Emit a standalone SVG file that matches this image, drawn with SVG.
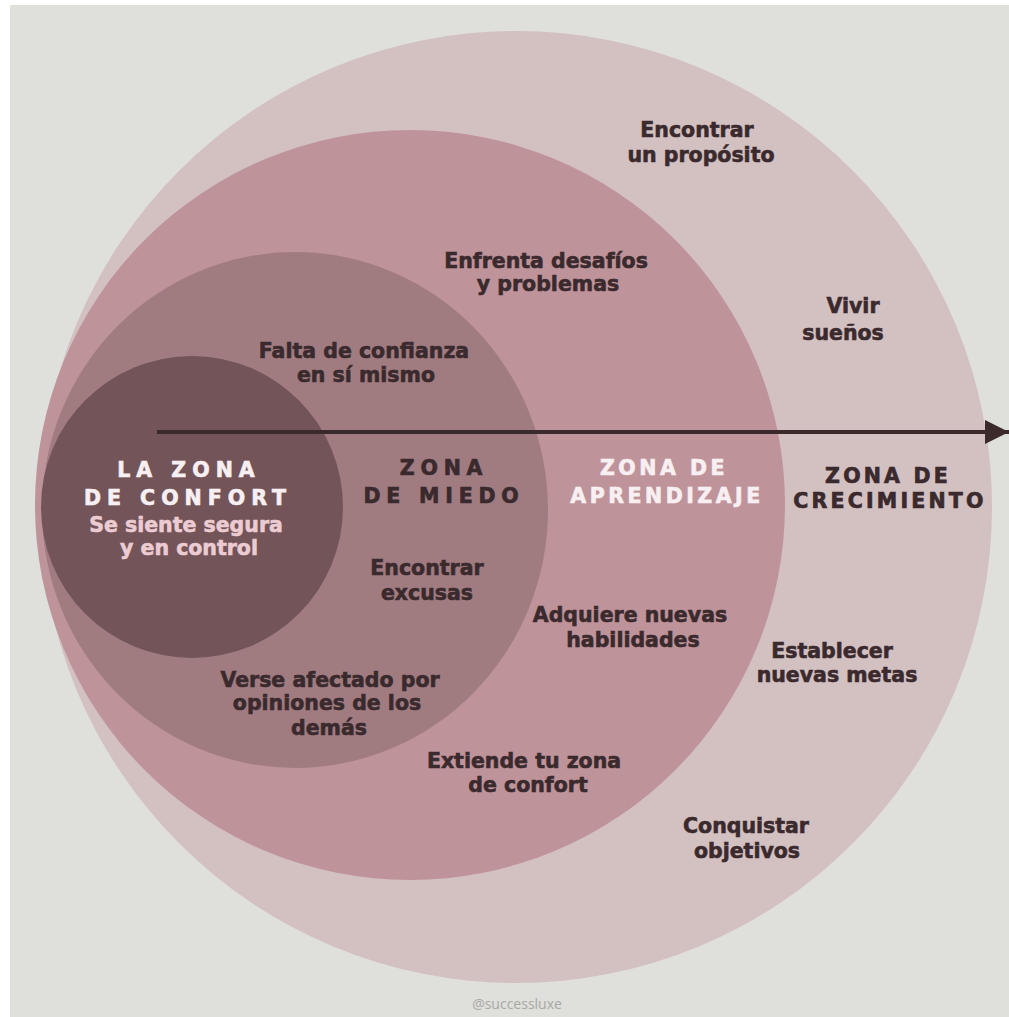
<svg xmlns="http://www.w3.org/2000/svg" width="1009" height="1017" viewBox="0 0 1009 1017">
<defs>
<style>
.t{font-family:"DejaVu Sans","Open Sans",sans-serif;font-weight:700;font-size:20.5px;fill:#3a2a2d;stroke:#3a2a2d;stroke-width:0.6px;text-anchor:middle}
.h{font-family:"DejaVu Sans","Open Sans",sans-serif;font-weight:700;font-size:20.5px;stroke-width:0.7px;text-anchor:middle}
.hd{fill:#3a2a2d;stroke:#3a2a2d}
.hw{fill:#f7eff1;stroke:#f7eff1}
.t.sub{fill:#ecccd2;stroke:#ecccd2}
</style>
<marker id="ah" viewBox="0 0 10 10" refX="10" refY="5" markerWidth="6" markerHeight="6.6" markerUnits="strokeWidth" orient="auto">
<path d="M0,0 L10,5 L0,10 Z" fill="#3a2a2c"/>
</marker>
</defs>
<rect x="0" y="0" width="1009" height="1017" fill="#ffffff"/>
<rect x="10" y="5" width="999" height="1012" fill="#dfdfdc"/>

<g id="zona-crecimiento">
<circle cx="516" cy="507" r="476" fill="#d3c0c1"/>
</g>
<g id="zona-aprendizaje">
<circle cx="410" cy="505" r="375" fill="#bf939a"/>
</g>
<g id="zona-miedo">
<ellipse cx="295" cy="510" rx="253" ry="258" fill="#a07c81"/>
</g>
<g id="zona-confort">
<circle cx="192" cy="507" r="151" fill="#735459"/>
</g>

<g id="connectors">
<line x1="157" y1="432" x2="1009" y2="432" stroke="#3a2a2c" stroke-width="4" marker-end="url(#ah)"/>
</g>

<g id="zona-confort-text">
<text class="h hw" letter-spacing="6"><tspan x="189" y="477">LA ZONA</tspan><tspan x="188" y="505">DE CONFORT</tspan></text>
<text class="t sub"><tspan x="186" y="532">Se siente segura</tspan><tspan x="189" y="555">y en control</tspan></text>
</g>

<g id="zona-miedo-text">
<text class="h hd" letter-spacing="5.8"><tspan x="444" y="475">ZONA</tspan><tspan x="444" y="503">DE MIEDO</tspan></text>
<text class="t"><tspan x="364" y="358">Falta de confianza</tspan><tspan x="366" y="382">en sí mismo</tspan></text>
<text class="t"><tspan x="427" y="575">Encontrar</tspan><tspan x="427" y="600">excusas</tspan></text>
<text class="t"><tspan x="330" y="687">Verse afectado por</tspan><tspan x="327" y="710">opiniones de los</tspan><tspan x="329" y="735">demás</tspan></text>
</g>

<g id="zona-aprendizaje-text">
<text class="h hw" letter-spacing="3.5"><tspan x="664" y="475">ZONA DE</tspan><tspan x="667" y="503">APRENDIZAJE</tspan></text>
<text class="t"><tspan x="546" y="268">Enfrenta desafíos</tspan><tspan x="548" y="291">y problemas</tspan></text>
<text class="t"><tspan x="630" y="622">Adquiere nuevas</tspan><tspan x="633" y="647">habilidades</tspan></text>
<text class="t"><tspan x="524" y="768">Extiende tu zona</tspan><tspan x="528" y="792">de confort</tspan></text>
</g>

<g id="zona-crecimiento-text">
<text class="h hd" letter-spacing="3.2"><tspan x="888" y="483">ZONA DE</tspan><tspan x="890" y="508">CRECIMIENTO</tspan></text>
<text class="t"><tspan x="697" y="137">Encontrar</tspan><tspan x="701" y="162">un propósito</tspan></text>
<text class="t"><tspan x="853" y="313">Vivir</tspan><tspan x="843" y="340">sueños</tspan></text>
<text class="t"><tspan x="832" y="658">Establecer</tspan><tspan x="837" y="682">nuevas metas</tspan></text>
<text class="t"><tspan x="746" y="833">Conquistar</tspan><tspan x="747" y="858">objetivos</tspan></text>
</g>

<text x="517" y="1009" font-family="'Open Sans','Liberation Sans',sans-serif" font-size="14" fill="#a8a8a6" text-anchor="middle">@successluxe</text>
</svg>
